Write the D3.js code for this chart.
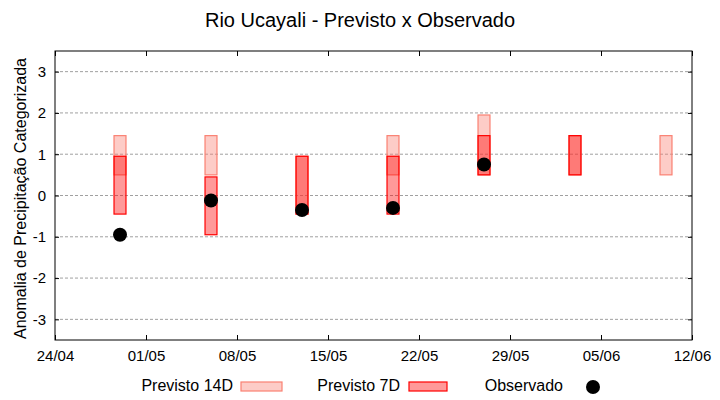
<!DOCTYPE html>
<html>
<head>
<meta charset="utf-8">
<script src="https://cdn.jsdelivr.net/npm/d3@7"></script>
<style>
  body { margin: 0; background: #fff; }
  svg { font-family: "Liberation Sans", Arial, sans-serif; }
</style>
</head>
<body>
<svg id="chart" width="720" height="400"></svg>
<script>
// dados
var dates = ["2024-04-29", "2024-05-06", "2024-05-13", "2024-05-20", "2024-05-27", "2024-06-03", "2024-06-10"]
var prev14Low  = [0.5, 0.5, -0.45, 0.5, 0.5, 0.5, 0.5]
var prev14High = [1.45, 1.45, 0.95, 1.45, 1.95, 1.45, 1.45]
var prev7Low   = [-0.45, -0.95, -0.45, -0.45, 0.5, 0.5, null]
var prev7High  = [0.95, 0.45, 0.95, 0.95, 1.45, 1.45, null]
var observed   = [-0.95, -0.12, -0.35, -0.3, 0.75, null, null]
var yTicks = [-3, -2, -1, 0, 1, 2, 3]
var xTickDates = ["2024-04-24", "2024-05-01", "2024-05-08", "2024-05-15", "2024-05-22", "2024-05-29", "2024-06-05", "2024-06-12"]

var parse = d3.timeParse("%Y-%m-%d")
var margin = {left: 55, right: 28, top: 51, bottom: 60}
var width = 720 - margin.left - margin.right
var height = 400 - margin.top - margin.bottom

var svg = d3.select("#chart")

var x = d3.scaleTime()
    .domain([parse("2024-04-24"), parse("2024-06-12")])
    .range([margin.left, margin.left + width])
var y = d3.scaleLinear()
    .domain([-3.5, 3.5])
    .range([margin.top + height, margin.top])

var rows = dates.map(function(d, i) {
    return {date: parse(d), lo14: prev14Low[i], hi14: prev14High[i], lo7: prev7Low[i], hi7: prev7High[i], obs: observed[i]}
})

// grade
svg.append("g")
    .selectAll("line")
    .data(yTicks)
    .join("line")
    .attr("x1", margin.left).attr("x2", margin.left + width)
    .attr("y1", d => y(d)).attr("y2", d => y(d))
    .attr("stroke", "#a0a0a0")
    .attr("stroke-dasharray", "3,2")

var halfDay = 0.46 * 86400000
function barX(d) { return x(new Date(d.date.getTime() - halfDay)) }
function barW(d) { return x(new Date(d.date.getTime() + halfDay)) - barX(d) }

// previsto 14D
svg.append("g")
    .selectAll("rect")
    .data(rows.filter(d => d.lo14 != null))
    .join("rect")
    .attr("x", barX)
    .attr("width", barW)
    .attr("y", d => y(d.hi14))
    .attr("height", d => y(d.lo14) - y(d.hi14))
    .attr("fill", "rgba(250,128,114,0.4)")
    .attr("stroke", "#fa8072")
    .attr("stroke-width", 1.2)

// previsto 7D
svg.append("g")
    .selectAll("rect")
    .data(rows.filter(d => d.lo7 != null))
    .join("rect")
    .attr("x", barX)
    .attr("width", barW)
    .attr("y", d => y(d.hi7))
    .attr("height", d => y(d.lo7) - y(d.hi7))
    .attr("fill", "rgba(255,0,0,0.4)")
    .attr("stroke", "#ff0000")
    .attr("stroke-width", 1.2)

// observado
svg.append("g")
    .selectAll("circle")
    .data(rows.filter(d => d.obs != null))
    .join("circle")
    .attr("cx", d => x(d.date))
    .attr("cy", d => y(d.obs))
    .attr("r", 7)
    .attr("fill", "#000")

// eixos
var xAxisB = d3.axisBottom(x)
    .tickValues(xTickDates.map(parse))
    .tickFormat(d3.timeFormat("%d/%m"))
    .tickSizeInner(-5).tickSizeOuter(0).tickPadding(10)
var gx = svg.append("g")
    .attr("transform", "translate(0," + (margin.top + height) + ")")
    .call(xAxisB)
gx.select(".domain").remove()
gx.selectAll("text")
    .attr("font-family", "'Liberation Sans Narrow', 'Liberation Sans', sans-serif")
    .attr("font-size", 15).attr("fill", "#000")
gx.selectAll("line").attr("stroke", "#000")

var gxt = svg.append("g")
    .attr("transform", "translate(0," + margin.top + ")")
    .call(d3.axisTop(x).tickValues(xTickDates.map(parse)).tickFormat("").tickSizeInner(-5).tickSizeOuter(0))
gxt.select(".domain").remove()

var gy = svg.append("g")
    .attr("transform", "translate(" + margin.left + ",0)")
    .call(d3.axisLeft(y).tickValues(yTicks).tickFormat(d => String(d)).tickSizeInner(-4).tickSizeOuter(0).tickPadding(9))
gy.select(".domain").remove()
gy.selectAll("text").attr("font-family", "'Liberation Sans', Arial, sans-serif").attr("font-size", 15).attr("fill", "#000")

var gyr = svg.append("g")
    .attr("transform", "translate(" + (margin.left + width) + ",0)")
    .call(d3.axisRight(y).tickValues(yTicks).tickFormat("").tickSizeInner(-4).tickSizeOuter(0))
gyr.select(".domain").remove()

svg.append("rect")
    .attr("x", margin.left).attr("y", margin.top)
    .attr("width", width).attr("height", height)
    .attr("fill", "none").attr("stroke", "#000").attr("stroke-width", 1)

// titulo e rotulo
svg.append("text")
    .attr("x", 360).attr("y", 27)
    .attr("text-anchor", "middle")
    .attr("font-size", 20)
    .text("Rio Ucayali - Previsto x Observado")

svg.append("text")
    .attr("transform", "translate(26," + (margin.top + height / 2 + 3) + ") rotate(-90)")
    .attr("text-anchor", "middle")
    .attr("font-size", 16)
    .text("Anomalia de Precipitação Categorizada")

// legenda
var legend = svg.append("g")
    .attr("font-family", "'Liberation Sans Narrow', 'Liberation Sans', sans-serif")
    .attr("font-size", 16)
legend.append("text").attr("x", 233).attr("y", 391).attr("text-anchor", "end").text("Previsto 14D")
legend.append("rect").attr("x", 241).attr("y", 382).attr("width", 41).attr("height", 9)
    .attr("fill", "rgba(250,128,114,0.4)").attr("stroke", "#fa8072").attr("stroke-width", 1.2)
legend.append("text").attr("x", 400).attr("y", 391).attr("text-anchor", "end").text("Previsto 7D")
legend.append("rect").attr("x", 409).attr("y", 382).attr("width", 38).attr("height", 9)
    .attr("fill", "rgba(255,0,0,0.4)").attr("stroke", "#ff0000").attr("stroke-width", 1.2)
legend.append("text").attr("x", 563).attr("y", 391).attr("text-anchor", "end").text("Observado")
legend.append("circle").attr("cx", 593).attr("cy", 387).attr("r", 7).attr("fill", "#000")
</script>
</body>
</html>
